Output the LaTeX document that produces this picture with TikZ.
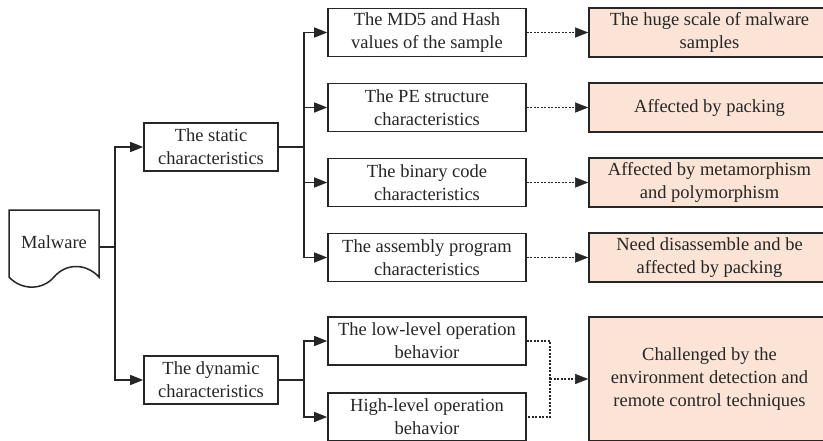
\documentclass[tikz,border=0pt]{standalone}
\usepackage{fontspec}
\setmainfont{Liberation Serif}
\newfontfamily\labelfont{Liberation Serif}
\usetikzlibrary{arrows.meta}
\definecolor{peach}{HTML}{FBE4D5}
\definecolor{ink}{HTML}{262626}
\begin{document}
\begin{tikzpicture}[x=1pt,y=-1pt,
  every node/.style={text=ink,font=\labelfont\fontsize{18.5}{23}\selectfont,align=center,inner sep=0pt},
  plainbox/.style={draw=ink,line width=1.6pt,fill=white,minimum height=48pt},
  midbox/.style={plainbox,minimum width=198pt},
  notebox/.style={draw=ink,line width=1.6pt,fill=peach,minimum width=241pt,minimum height=49pt},
  link/.style={draw=ink,line width=1.5pt},
  linkarrow/.style={link,-{Triangle[length=13pt,width=10pt]}},
  dotlink/.style={draw=ink,line width=1.3pt,dash pattern=on 2pt off 1.5pt},
  dotarrow/.style={dotlink,-{Triangle[length=13pt,width=10pt,line width=0.5pt]}}]
\useasboundingbox (0,0) rectangle (823,440);
\clip (0,0) rectangle (823,440);

% root document symbol
\draw[ink,line width=1.5pt,fill=white] (9,210) -- (99,210) -- (99,277)
  .. controls (86,263) and (66,263) .. (54,277)
  .. controls (43,290) and (22,291) .. (9,277) -- cycle;
\node (malware) at (54,242) {Malware};
\coordinate (mwout) at (99,247);

% first level
\node[plainbox,minimum width=134pt] (static) at (211,147) {The static\\characteristics};
\node[plainbox,minimum width=134pt] (dynamic) at (211,380) {The dynamic\\characteristics};

% second level
\node[midbox] (md5) at (427,32.5) {The MD5 and Hash\\values of the sample};
\node[midbox] (pe) at (427,107.5) {The PE structure\\characteristics};
\node[midbox] (bin) at (427,182.5) {The binary code\\characteristics};
\node[midbox] (asm) at (427,257.5) {The assembly program\\characteristics};
\node[midbox] (low) at (427,341) {The low-level operation\\behavior};
\node[midbox] (high) at (427,417) {High-level operation\\behavior};

% limitations
\node[notebox] (scale) at (709.5,32.5) {The huge scale of malware\\samples};
\node[notebox] (pack) at (709.5,107.5) {Affected by packing};
\node[notebox] (meta) at (709.5,182.5) {Affected by metamorphism\\and polymorphism};
\node[notebox] (disasm) at (709.5,257.5) {Need disassemble and be\\affected by packing};
\node[notebox,minimum height=124pt] (env) at (709.5,379) {Challenged by the\\environment detection and\\remote control techniques};

% tree connectors
\draw[linkarrow] (mwout) -- ++(16,0) |- (static.west);
\draw[linkarrow] (mwout) -- ++(16,0) |- (dynamic.west);

\draw[linkarrow] (static.east) -- ++(25,0) |- (md5.west);
\draw[linkarrow] (static.east) -- ++(25,0) |- (pe.west);
\draw[linkarrow] (static.east) -- ++(25,0) |- (bin.west);
\draw[linkarrow] (static.east) -- ++(25,0) |- (asm.west);

\draw[linkarrow] (dynamic.east) -- ++(25,0) |- (low.west);
\draw[linkarrow] (dynamic.east) -- ++(25,0) |- (high.west);

% dotted links to the limitations
\draw[dotarrow] (md5.east) -- (scale.west);
\draw[dotarrow] (pe.east) -- (pack.west);
\draw[dotarrow] (bin.east) -- (meta.west);
\draw[dotarrow] (asm.east) -- (disasm.west);

\coordinate (join) at (550,379);
\draw[dotlink] (low.east) -| (join) |- (high.east);
\draw[dotarrow] (join) -- (env.west);
\end{tikzpicture}
\end{document}
